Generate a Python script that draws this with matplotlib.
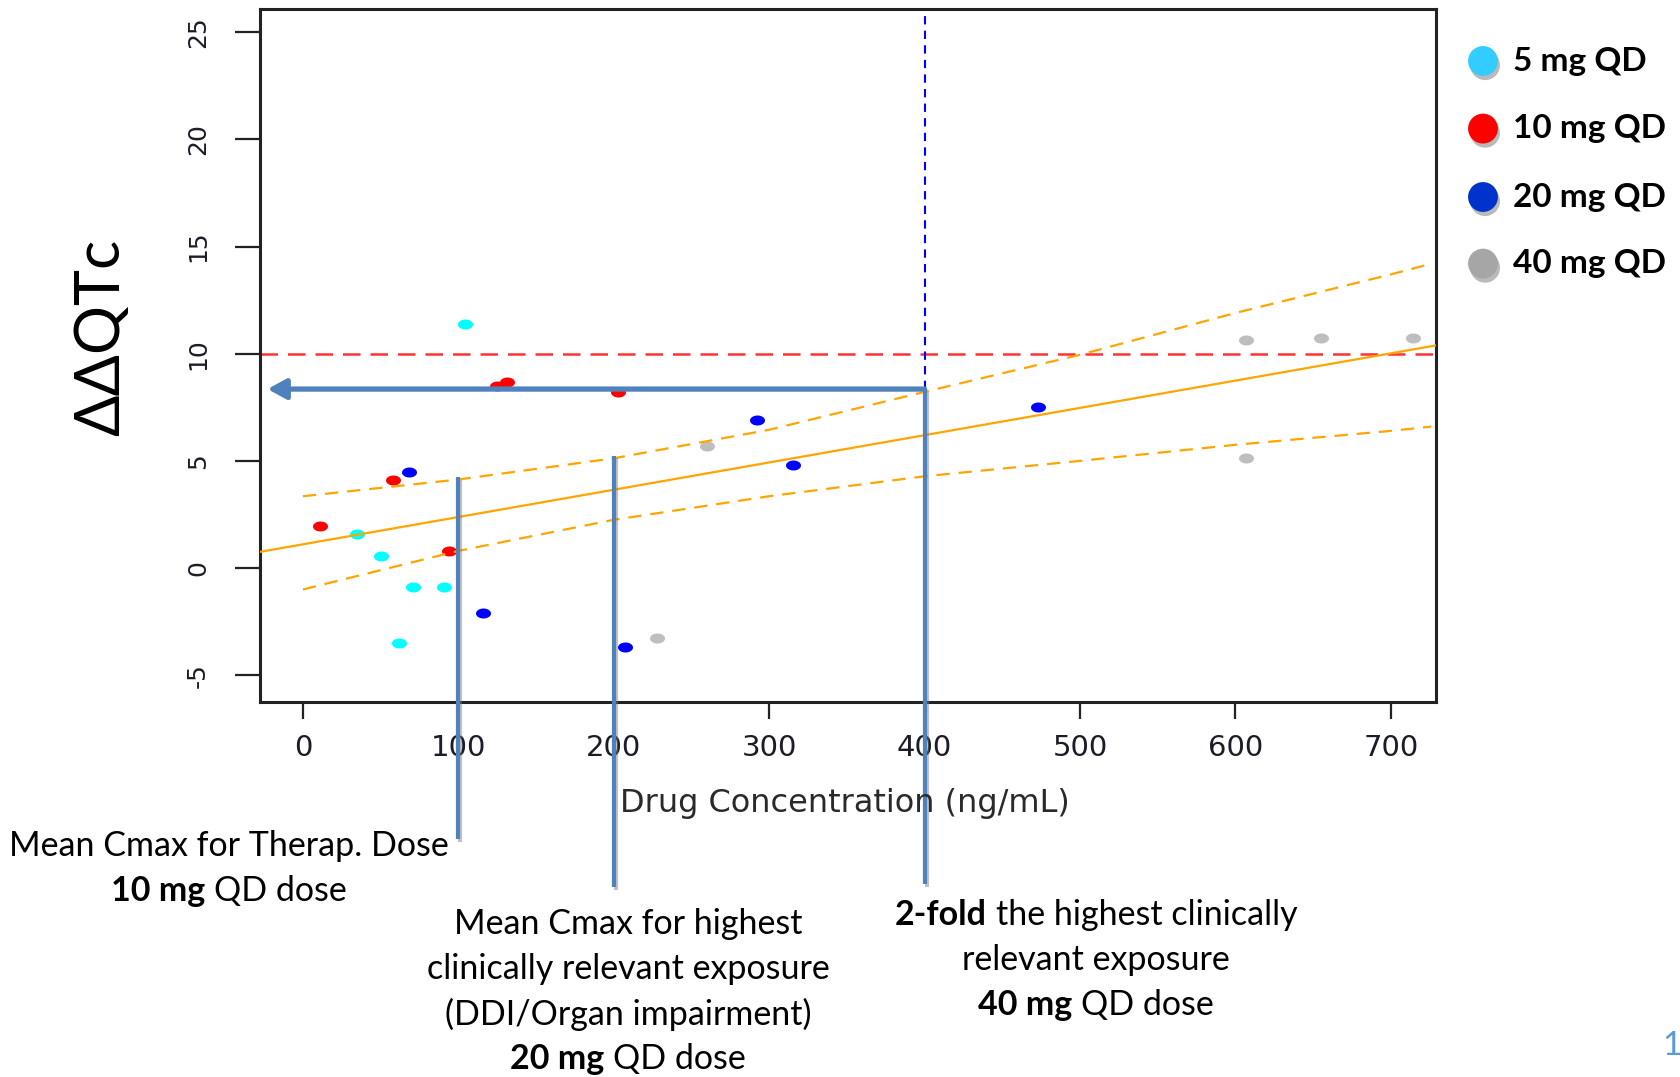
import numpy as np
import matplotlib
matplotlib.use("Agg")
import matplotlib.pyplot as plt
from matplotlib.path import Path
from matplotlib.patches import FancyArrowPatch
import matplotlib.patheffects as pe

# ---------------- data ----------------
dose_labels = ["5 mg QD", "10 mg QD", "20 mg QD", "40 mg QD"]

conc_5mg = [104, 35, 50, 71, 91, 62]
dqtc_5mg = [11.4, 1.6, 0.55, -0.9, -0.9, -3.5]
conc_10mg = [11, 58, 94, 125, 131, 203]
dqtc_10mg = [1.95, 4.1, 0.8, 8.5, 8.7, 8.2]
conc_20mg = [68, 116, 207, 292, 315, 473]
dqtc_20mg = [4.5, -2.1, -3.7, 6.9, 4.8, 7.5]
conc_40mg = [228, 260, 607, 655, 714, 607]
dqtc_40mg = [-3.25, 5.7, 10.65, 10.75, 10.75, 5.15]

fit_x = [-28, 730]
fit_y = [0.75, 10.4]
band_x = [0, 100, 200, 300, 400, 500, 600, 700, 726]
band_upper = [3.35, 4.13, 5.12, 6.45, 8.22, 9.95, 11.9, 13.7, 14.2]
band_lower = [-1.0, 0.8, 2.25, 3.35, 4.28, 5.0, 5.75, 6.4, 6.6]

qtc_threshold = 10
conc_2fold = 400
cmax_therap = 100
cmax_high = 200
arrow_dqtc = 8.35
arrow_end = -22.8
cmax_therap_top = 4.25
cmax_high_top = 5.25

x_ticks = [0, 100, 200, 300, 400, 500, 600, 700]
y_ticks = [-5, 0, 5, 10, 15, 20, 25]

# ---------------- styles ----------------
W, H = 1680, 1077
fig = plt.figure(figsize=(W / 100, H / 100), dpi=100)
fig.patch.set_facecolor("white")

ann_font = ["Lato", "DejaVu Sans"]
steel = "#4F81BD"
orange = "#FFA500"

ax = fig.add_axes([260 / W, 1 - 702 / H, (1436 - 260) / W, (702 - 8.6) / H])
ax.set_xlim(-27.6, 729)
ax.set_ylim(-6.25, 26.1)
for s in ax.spines.values():
    s.set_linewidth(2.2)
    s.set_color("#222222")

ax.set_xticks(x_ticks)
ax.set_yticks(y_ticks)
ax.set_xticklabels([str(v) for v in x_ticks], family="DejaVu Sans", fontsize=21, color="#1c1c28")
ax.set_yticklabels([str(v) for v in y_ticks], family="DejaVu Sans", fontsize=18, color="#1c1c28",
                   rotation=90, va="center")
ax.tick_params(axis="x", length=12, width=1.6, pad=11, color="#222222")
ax.tick_params(axis="y", length=18, width=1.6, pad=18, color="#222222")

# ellipse marker (points appear horizontally stretched)
th = np.linspace(0, 2 * np.pi, 48)
ell = Path(np.column_stack([1.5 * np.cos(th), np.sin(th)]))

series = [
    (conc_5mg, dqtc_5mg, "#00FFFF"),
    (conc_10mg, dqtc_10mg, "#FF0000"),
    (conc_20mg, dqtc_20mg, "#0000FF"),
    (conc_40mg, dqtc_40mg, "#BEBEBE"),
]
for xs, ys, c in series:
    ax.plot(xs, ys, linestyle="none", marker=ell, ms=10.8, color=c, mec="none", zorder=3)

# regression line and confidence bands
ax.plot(fit_x, fit_y, color=orange, lw=1.6, zorder=4)
ax.plot(band_x, band_upper, color=orange, lw=1.6, ls=(0, (6, 4)), zorder=4)
ax.plot(band_x, band_lower, color=orange, lw=1.6, ls=(0, (6, 4)), zorder=4)

# reference lines
ax.axhline(qtc_threshold, color="#FF3333", lw=1.8, ls=(0, (7, 4)), zorder=2)
ax.plot([conc_2fold, conc_2fold], [arrow_dqtc, 26.1], color="#0000FF", lw=1.5,
        ls=(0, (4, 3)), zorder=2)

shadow = [pe.SimpleLineShadow(offset=(1.5, -2), shadow_color="#777777", alpha=0.45), pe.Normal()]

# arrow
arr = FancyArrowPatch((conc_2fold, arrow_dqtc), (arrow_end, arrow_dqtc),
                      arrowstyle="-|>,head_length=1.1,head_width=0.6", mutation_scale=10,
                      color=steel, lw=3.8, zorder=6, shrinkA=0, shrinkB=0)
arr.set_path_effects([pe.SimplePatchShadow(offset=(1.5, -2), shadow_rgbFace="#777777", alpha=0.45),
                      pe.Normal()])
ax.add_patch(arr)

# vertical markers extending below the axes
ax.plot([cmax_therap, cmax_therap], [cmax_therap_top, -12.65], color=steel, lw=3,
        clip_on=False, zorder=7, path_effects=shadow, solid_capstyle="butt")
ax.plot([cmax_high, cmax_high], [cmax_high_top, -14.9], color=steel, lw=3,
        clip_on=False, zorder=7, path_effects=shadow, solid_capstyle="butt")
ax.plot([conc_2fold, conc_2fold], [arrow_dqtc, -14.75], color=steel, lw=3,
        clip_on=False, zorder=7, path_effects=shadow, solid_capstyle="butt")

# axis labels
fig.text(845 / W, 1 - 803.6 / H, "Drug Concentration (ng/mL)", family="DejaVu Sans",
         fontsize=23, color="#2a2a2a", ha="center", va="center", zorder=1)
fig.text(102 / W, 1 - 337 / H, "ΔΔQTc", family=ann_font, fontsize=44, rotation=90,
         ha="center", va="center")

# overlay in pixel coordinates
ov = fig.add_axes([0, 0, 1, 1], zorder=10)
ov.set_xlim(0, W)
ov.set_ylim(H, 0)
ov.axis("off")
ov.patch.set_alpha(0)

# legend
leg_colors = ["#33CCFF", "#FF0000", "#0033CC", "#A6A6A6"]
leg_y = [61, 128.6, 197, 263.6]
for lab, c, yy in zip(dose_labels, leg_colors, leg_y):
    ov.plot([1483], [yy], marker="o", ms=21.5, color=c, mec="none",
            path_effects=[pe.SimplePatchShadow(offset=(1.5, -3), shadow_rgbFace="#666666", alpha=0.45),
                          pe.Normal()])
    ov.text(1513, yy, lab, family=ann_font, fontweight="bold", fontsize=24, va="center", ha="left")

renderer = fig.canvas.get_renderer()


def width_of(s, weight, size):
    t = ov.text(0, 0, s, family=ann_font, fontweight=weight, fontsize=size)
    w = t.get_window_extent(renderer).width
    t.remove()
    return w


def rich_line(xc, yc, parts, size=24.5):
    sp = width_of("x x", "normal", size) - width_of("xx", "normal", size)
    widths = [width_of(s, w, size) for s, w in parts]
    total = sum(widths) + sp * (len(parts) - 1)
    x = xc - total / 2
    for (s, w), wd in zip(parts, widths):
        ov.text(x, yc, s, family=ann_font, fontweight=w, fontsize=size, va="center", ha="left")
        x += wd + sp


rich_line(229, 846, [("Mean Cmax for Therap. Dose", "normal")])
rich_line(229, 891, [("10 mg", "bold"), ("QD dose", "normal")])

rich_line(628, 924, [("Mean Cmax for highest", "normal")])
rich_line(628, 969, [("clinically relevant exposure", "normal")])
rich_line(628, 1014, [("(DDI/Organ impairment)", "normal")])
rich_line(628, 1059, [("20 mg", "bold"), ("QD dose", "normal")])

rich_line(1096, 915, [("2-fold", "bold"), ("the highest clinically", "normal")])
rich_line(1096, 960, [("relevant exposure", "normal")])
rich_line(1096, 1005, [("40 mg", "bold"), ("QD dose", "normal")])

ov.text(1662, 1046, "1", family=ann_font, fontsize=24, color="#5B9BD5", va="center", ha="left")

fig.savefig("out.png", dpi=100)
